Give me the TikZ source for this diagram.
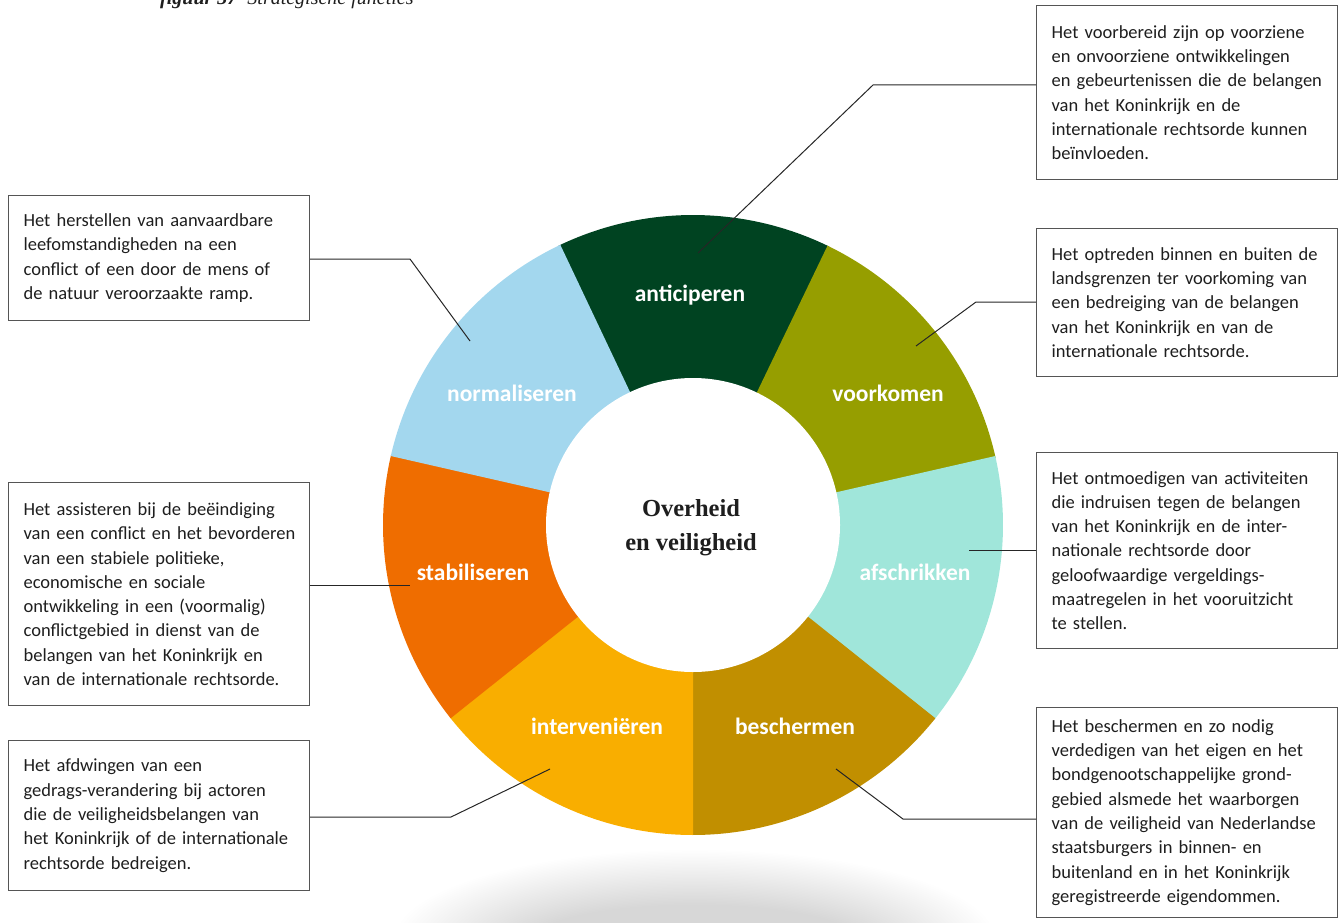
\documentclass[tikz,border=0pt]{standalone}
\usepackage{fontspec}
\setmainfont{Carlito}
\newfontfamily\centrefont{Liberation Serif}
\usetikzlibrary{positioning}
\definecolor{antgreen}{RGB}{0,67,33}
\definecolor{voorolive}{RGB}{150,158,0}
\definecolor{afsmint}{RGB}{160,230,218}
\definecolor{besgold}{RGB}{193,143,0}
\definecolor{intamber}{RGB}{249,174,0}
\definecolor{staborange}{RGB}{239,109,0}
\definecolor{normblue}{RGB}{163,215,238}
\definecolor{textdark}{RGB}{30,30,30}
\definecolor{boxgrey}{RGB}{85,85,85}
\tikzset{
  infobox/.style={draw=boxgrey, line width=1.2pt, anchor=north west, align=left, text width=271pt, inner xsep=15pt, inner ysep=0pt, text=textdark, font=\fontsize{18.5}{24.3}\selectfont, execute at begin node={\rightskip=0pt plus 2em minus 30pt}},
  seglabel/.style={text=white, font=\bfseries\fontsize{23.5}{28}\selectfont},
  leader/.style={draw=black!85, line width=1pt}
}

\begin{document}
\begin{tikzpicture}[x=1pt, y=1pt]
    \useasboundingbox (0,0) rectangle (1341,-923);
    \node[anchor=base west, inner sep=0pt, text=textdark, font=\centrefont\itshape\fontsize{20}{24}\selectfont] (caption) at (160,-5) {\textbf{figuur 37}\hspace{10pt}Strategische functies};
    \coordinate (shadowc) at (695,-940);
    \foreach \k in {0,...,39}
      \fill[black, opacity=0.0042] (shadowc) ellipse [x radius=300-3.5*\k, y radius=90-1.4*\k];
    \coordinate (c) at (693,-525);
    \foreach \seg/\col/\lx/\ly/\txt [count=\i from 0] in {ant/antgreen/690/-295/anticiperen, voor/voorolive/888/-393/voorkomen, afs/afsmint/915/-572/afschrikken, bes/besgold/795/-726/beschermen, int/intamber/597/-726/interveniëren, stab/staborange/473/-572/stabiliseren, norm/normblue/512/-393/normaliseren}{
      \pgfmathsetmacro\a{115.714-\i*51.4286}
      \pgfmathsetmacro\b{\a-51.8}
      \fill[\col] (c) -- ++(\a:310) arc[start angle=\a, end angle=\b, radius=310] -- cycle;
      \node[seglabel] (\seg label) at (\lx,\ly) {\txt};
    }
    \fill[white] (c) circle [radius=147];
    \node[align=center, text=textdark, font=\centrefont\bfseries\fontsize{24.5}{34}\selectfont] (core) at (691,-528) {Overheid\\en veiligheid};

    \node[infobox, minimum height=174] (antbox) at (1036,-5) {Het voorbereid zijn op voorziene\\en onvoorziene ontwikkelingen\\en gebeurtenissen die de belangen\\van het Koninkrijk en de\\internationale rechtsorde kunnen\\beïnvloeden.};
    \node[infobox, minimum height=148] (voorbox) at (1036,-228) {Het optreden binnen en buiten de\\landsgrenzen ter voorkoming van\\een bedreiging van de belangen\\van het Koninkrijk en van de\\internationale rechtsorde.};
    \node[infobox, minimum height=196] (afsbox) at (1036,-452) {Het ontmoedigen van activiteiten\\die indruisen tegen de belangen\\van het Koninkrijk en de inter-\\nationale rechtsorde door\\geloofwaardige vergeldings-\\maatregelen in het vooruitzicht\\te stellen.};
    \node[infobox, minimum height=210] (besbox) at (1036,-707) {Het beschermen en zo nodig\\verdedigen van het eigen en het\\bondgenootschappelijke grond-\\gebied alsmede het waarborgen\\van de veiligheid van Nederlandse\\staatsburgers in binnen- en\\buitenland en in het Koninkrijk\\geregistreerde eigendommen.};
    \node[infobox, minimum height=125] (normbox) at (8,-195) {Het herstellen van aanvaardbare\\leefomstandigheden na een\\conflict of een door de mens of\\de natuur veroorzaakte ramp.};
    \node[infobox, minimum height=223] (stabbox) at (8,-482) {Het assisteren bij de beëindiging\\van een conflict en het bevorderen\\van een stabiele politieke,\\economische en sociale\\ontwikkeling in een (voormalig)\\conflictgebied in dienst van de\\belangen van het Koninkrijk en\\van de internationale rechtsorde.};
    \node[infobox, minimum height=150] (intbox) at (8,-740) {Het afdwingen van een\\gedrags-verandering bij actoren\\die de veiligheidsbelangen van\\het Koninkrijk of de internationale\\rechtsorde bedreigen.};

    \coordinate (antknee) at (873,-85);
    \coordinate (antpt) at (698,-253);
    \coordinate (voorknee) at (976,-302);
    \coordinate (voorpt) at (916,-346);
    \coordinate (afspt) at (969,-550);
    \coordinate (besknee) at (903,-819);
    \coordinate (bespt) at (836,-769);
    \coordinate (normknee) at (410,-259);
    \coordinate (normpt) at (470,-341);
    \coordinate (stabpt) at (410,-585);
    \coordinate (intknee) at (451,-817);
    \coordinate (intpt) at (550,-769);
    \draw[leader] (antbox.west |- antknee) -- (antknee) -- (antpt);
    \draw[leader] (voorbox.west |- voorknee) -- (voorknee) -- (voorpt);
    \draw[leader] (afsbox.west |- afspt) -- (afspt);
    \draw[leader] (besbox.west |- besknee) -- (besknee) -- (bespt);
    \draw[leader] (normbox.east |- normknee) -- (normknee) -- (normpt);
    \draw[leader] (stabbox.east |- stabpt) -- (stabpt);
    \draw[leader] (intbox.east |- intknee) -- (intknee) -- (intpt);
  \end{tikzpicture}
\end{document}
